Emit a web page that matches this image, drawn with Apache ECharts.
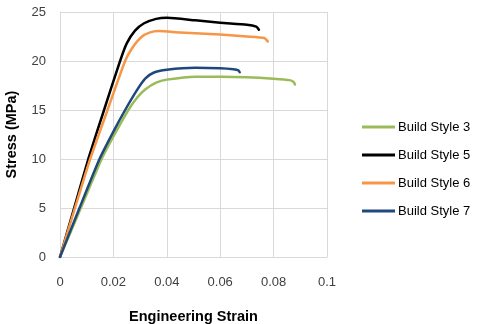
<!DOCTYPE html>
<html>
<head>
<meta charset="utf-8">
<script src="https://cdn.jsdelivr.net/npm/echarts@6/dist/echarts.min.js"></script>
<style>html,body{margin:0;padding:0;background:#fff}#c{width:478px;height:324px}</style>
</head>
<body>
<div id="c"></div>
<script>
var seriesNames = ['Build Style 3', 'Build Style 5', 'Build Style 6', 'Build Style 7'];
var xTicks = [0, 0.02, 0.04, 0.06, 0.08, 0.1];
var yTicks = [0, 5, 10, 15, 20, 25];

var bs3Strain = [0, 0.0078, 0.0156, 0.02, 0.0256, 0.029, 0.0319, 0.036, 0.040, 0.0507, 0.06, 0.07, 0.08, 0.086, 0.0875, 0.088];
var bs3Stress = [0, 5.0, 10.0, 12.3, 15.0, 16.3, 17.1, 17.8, 18.1, 18.4, 18.4, 18.35, 18.2, 18.05, 17.85, 17.6];

var bs5Strain = [0, 0.0053, 0.0106, 0.0165, 0.0225, 0.025, 0.0281, 0.0315, 0.036, 0.040, 0.0507, 0.06, 0.07, 0.0735, 0.0745];
var bs5Stress = [0, 5.0, 10.0, 15.0, 20.0, 21.8, 23.1, 23.85, 24.3, 24.42, 24.15, 23.9, 23.7, 23.5, 23.2];

var bs6Strain = [0, 0.0056, 0.0113, 0.0178, 0.0244, 0.0275, 0.0305, 0.0335, 0.037, 0.045, 0.06, 0.07, 0.0765, 0.0778];
var bs6Stress = [0, 5.0, 10.0, 15.0, 20.0, 21.5, 22.45, 22.9, 23.05, 22.9, 22.7, 22.5, 22.35, 22.0];

var bs7Strain = [0, 0.0073, 0.0148, 0.02, 0.0244, 0.029, 0.0319, 0.035, 0.040, 0.0507, 0.06, 0.065, 0.0668, 0.0673];
var bs7Stress = [0, 5.0, 10.0, 12.8, 15.0, 17.1, 18.2, 18.8, 19.1, 19.3, 19.25, 19.15, 19.05, 18.85];

var colors = ['#9BBB59', '#000000', '#F79646', '#1F497D'];

function pairs(xs, ys) { return xs.map(function (x, i) { return [x, ys[i]]; }); }
var allData = [pairs(bs3Strain, bs3Stress), pairs(bs5Strain, bs5Stress), pairs(bs6Strain, bs6Stress), pairs(bs7Strain, bs7Stress)];

var chart = echarts.init(document.getElementById('c'));
var font = '"Liberation Sans", Arial, sans-serif';
chart.setOption({
  animation: false,
  grid: { left: 60, right: 151, top: 12, bottom: 67, containLabel: false, outerBoundsMode: 'none' },
  legend: {
    orient: 'vertical', left: 362, top: 120, padding: 0,
    itemWidth: 33, itemHeight: 3, itemGap: 14,
    icon: 'rect',
    textStyle: { fontFamily: font, fontSize: 13, color: '#000', lineHeight: 14, padding: [0, 0, 0, -2] },
    data: seriesNames
  },
  xAxis: {
    type: 'value', min: 0, max: 0.1, interval: 0.02,
    name: 'Engineering Strain', nameLocation: 'middle', nameGap: 52,
    nameTextStyle: { fontFamily: font, fontSize: 14.5, fontWeight: 'bold', color: '#000' },
    axisLine: { show: true, lineStyle: { color: '#D9D9D9', width: 1 } },
    axisTick: { show: false },
    splitLine: { show: true, lineStyle: { color: '#D9D9D9', width: 1 } },
    axisLabel: { fontFamily: font, fontSize: 13, color: '#404040', margin: 19,
      formatter: function (v) { var i = xTicks.indexOf(Math.round(v * 100) / 100); return i >= 0 ? String(xTicks[i]) : ''; } }
  },
  yAxis: {
    type: 'value', min: 0, max: 25, interval: 5,
    name: 'Stress (MPa)', nameLocation: 'middle', nameGap: 41, nameRotate: 90,
    nameTextStyle: { fontFamily: font, fontSize: 14.5, fontWeight: 'bold', color: '#000' },
    axisLine: { show: true, lineStyle: { color: '#D9D9D9', width: 1 } },
    axisTick: { show: false },
    splitLine: { show: true, lineStyle: { color: '#D9D9D9', width: 1 } },
    axisLabel: { fontFamily: font, fontSize: 13, color: '#404040', margin: 14,
      formatter: function (v) { return yTicks.indexOf(v) >= 0 ? String(v) : ''; } }
  },
  series: seriesNames.map(function (n, i) {
    return {
      name: n, type: 'line', data: allData[i], smooth: 0.2,
      showSymbol: false, symbol: 'none',
      lineStyle: { color: colors[i], width: 2.5, cap: 'round', join: 'round' },
      itemStyle: { color: colors[i] }
    };
  })
});
</script>
</body>
</html>
